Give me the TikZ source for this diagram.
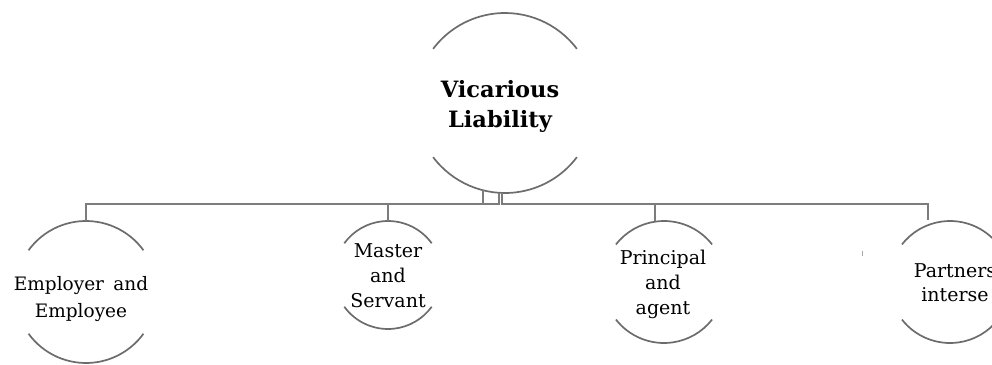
\documentclass[tikz,border=0pt]{standalone}
\usepackage{fontspec}
\setmainfont{DejaVu Serif}
\definecolor{conngray}{HTML}{7C7C7C}
\definecolor{arcgray}{HTML}{6C6C6C}
\begin{document}
\begin{tikzpicture}[x=1pt,y=-1pt,
  ring/.style={circle, draw=none, inner sep=0pt, outer sep=0pt},
  arcline/.style={draw=arcgray, line width=1.7pt},
  conn/.style={draw=conngray, line width=1.7pt},
  lbl/.style={align=center, text=black, font=\fontsize{19}{25}\selectfont},
  ttl/.style={align=center, text=black, font=\bfseries\fontsize{22.5}{30}\selectfont}]
\useasboundingbox (0,0) rectangle (992,364);
% circles (only arcs are drawn)
\node[ring, minimum size=180pt] (V) at (505,103) {};
\node[ring, minimum size=142pt] (E) at (86,292) {};
\node[ring, minimum size=108pt] (M) at (388,275) {};
\node[ring, minimum size=122pt] (A) at (664,282) {};
\node[ring, minimum size=122pt] (P) at (950,282) {};
\draw[arcline] (V.37) arc[start angle=37, end angle=143, radius=90pt];
\draw[arcline] (V.217) arc[start angle=217, end angle=323, radius=90pt];
\draw[arcline] (E.36) arc[start angle=36, end angle=144, radius=71pt];
\draw[arcline] (E.216) arc[start angle=216, end angle=324, radius=71pt];
\draw[arcline] (M.36) arc[start angle=36, end angle=144, radius=54pt];
\draw[arcline] (M.216) arc[start angle=216, end angle=324, radius=54pt];
\draw[arcline] (A.38) arc[start angle=38, end angle=142, radius=61pt];
\draw[arcline] (A.218) arc[start angle=218, end angle=322, radius=61pt];
\draw[arcline] (P.38) arc[start angle=38, end angle=142, radius=61pt];
\draw[arcline] (P.218) arc[start angle=218, end angle=322, radius=61pt];
% labels
\node[ttl] (Vt) at (500,106) {Vicarious\\Liability};
\node[lbl, font=\fontsize{18.5}{27}\selectfont] (Et) at (81,299) {Employer\enspace and\\Employee};
\node[lbl] (Mt) at (388,276) {Master\\and\\Servant};
\node[lbl] (At) at (663,284) {Principal\\and\\agent};
\node[lbl, font=\fontsize{19}{24}\selectfont] (Pt) at (955,283) {Partners\\interse};
% connectors
\coordinate (bus) at (0,204);
\coordinate (b3) at (655,204);
\coordinate (b4) at (928,204);
\coordinate (e4) at (928,220);
\draw[conn] (E.north) -- (E.north |- bus) -- (V.266.8 |- bus) -- (V.266.8);
\draw[conn] (V.256.5) -- (V.256.5 |- bus);
\draw[conn] (M.north) -- (M.north |- bus);
\draw[conn] (V.268.7) -- (V.268.7 |- bus) -- (b4) -- (e4);
\draw[conn] (b3) -- (b3 |- A.north);
% small stray tick
\coordinate (tk) at (862,251);
\draw[gray!70, line width=1pt] (tk) -- ++(0,5);
\end{tikzpicture}
\end{document}
